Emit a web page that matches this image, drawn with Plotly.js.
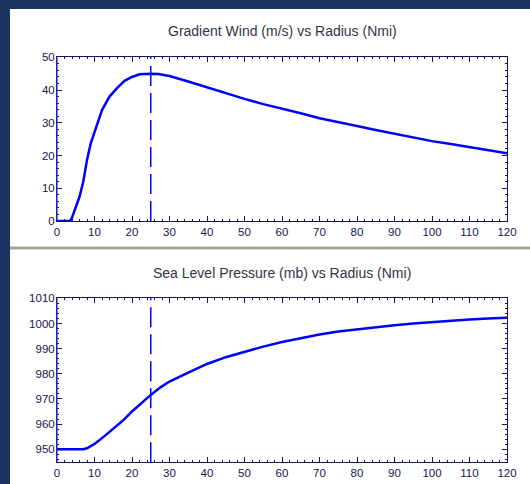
<!DOCTYPE html>
<html>
<head>
<meta charset="utf-8">
<script src="https://cdn.plot.ly/plotly-3.0.1.min.js"></script>
<style>
  html, body { margin: 0; padding: 0; background: #1c3461; width: 530px; height: 484px; overflow: hidden; }
  #chart { position: absolute; left: 10px; top: 9px; width: 520px; height: 475px; background: #ffffff; }
</style>
</head>
<body>
<div id="chart"></div>
<script>
// Radius (Nmi)
const windRadius = [0, 1, 2, 3, 3.5, 4, 5, 6, 7, 8, 9, 10, 12, 14, 16, 18, 20, 22, 24, 25, 27, 30, 35, 40, 45, 50, 55, 60, 65, 70, 75, 80, 85, 90, 95, 100, 105, 110, 115, 120];
// Gradient wind (m/s)
const windSpeed = [0, 0, 0, 0, 0, 1, 3.9, 7.4, 12, 18.6, 23.7, 27.3, 33.9, 38, 40.6, 42.8, 44, 44.8, 45, 45, 44.9, 44.3, 42.6, 40.8, 39, 37.3, 35.7, 34.4, 32.9, 31.4, 30.1, 29, 27.8, 26.6, 25.6, 24.4, 23.5, 22.5, 21.7, 20.7];

const presRadius = [0, 2, 4, 6, 7, 8, 10, 12.5, 15, 17.5, 20, 22.5, 25, 27.5, 30, 35, 40, 45, 50, 55, 60, 65, 70, 75, 80, 85, 90, 95, 100, 105, 110, 115, 120];
// Sea level pressure (mb)
const presValue = [950, 950, 950, 950, 950, 950.4, 952.1, 955, 958, 961.3, 965, 968.3, 971.6, 974.5, 976.9, 980.5, 983.9, 986.6, 988.8, 990.8, 992.6, 994.2, 995.6, 996.8, 997.7, 998.5, 999.3, 1000, 1000.6, 1001.1, 1001.6, 1002, 1002.3];

const rmwRadius = 25;   // radius of maximum wind (dashed line)
const xTicks = [0, 10, 20, 30, 40, 50, 60, 70, 80, 90, 100, 110, 120];

const topTitle = "Gradient Wind (m/s) vs Radius (Nmi)";
const botTitle = "Sea Level Pressure (mb) vs Radius (Nmi)";

const axisColor = '#14145a';
const lineBlue = '#0000ff';
const tickFont = { family: 'Liberation Sans, Arial, sans-serif', size: 11.5, color: '#16164e' };

function xAxis(anchor) {
  return {
    domain: [0, 1], anchor: anchor, range: [0, 120],
    tickvals: xTicks, ticktext: xTicks.map(String),
    ticks: 'inside', ticklen: 5, tickcolor: axisColor, tickwidth: 1,
    minor: { dtick: 2, ticks: 'inside', ticklen: 2, tickcolor: axisColor },
    showline: true, linecolor: axisColor, linewidth: 1, mirror: 'allticks',
    showgrid: false, zeroline: false, tickfont: tickFont, fixedrange: true
  };
}
function yAxis(anchor, domain, range, dtick, tick0) {
  return {
    domain: domain, anchor: anchor, range: range,
    tick0: tick0, dtick: dtick,
    ticks: 'inside', ticklen: 5, tickcolor: axisColor, tickwidth: 1,
    minor: { dtick: 2, ticks: 'inside', ticklen: 2, tickcolor: axisColor },
    showline: true, linecolor: axisColor, linewidth: 1, mirror: 'allticks',
    showgrid: false, zeroline: false, tickfont: tickFont, fixedrange: true,
    ticklabelstandoff: -1
  };
}

const traces = [
  { x: windRadius, y: windSpeed, xaxis: 'x', yaxis: 'y', type: 'scatter', mode: 'lines',
    line: { color: lineBlue, width: 2.5 }, hoverinfo: 'skip' },
  { x: presRadius, y: presValue, xaxis: 'x2', yaxis: 'y2', type: 'scatter', mode: 'lines',
    line: { color: lineBlue, width: 2.5 }, hoverinfo: 'skip' }
];

const layout = {
  width: 520, height: 475,
  margin: { l: 47, r: 23, t: 0, b: 0 },
  paper_bgcolor: '#ffffff', plot_bgcolor: '#ffffff',
  showlegend: false,
  xaxis: xAxis('y'),
  yaxis: yAxis('x', [0.5537, 0.8983], [0, 50], 10, 0),
  xaxis2: xAxis('y2'),
  yaxis2: yAxis('x2', [0.0457, 0.3909], [944.8, 1010], 10, 950),
  shapes: [
    // splitter band
    { type: 'rect', xref: 'paper', yref: 'paper', x0: -47/450, x1: 473/450, y0: 0.4926, y1: 0.5011,
      fillcolor: '#d8d5cc', line: { width: 0 }, layer: 'below' },
    { type: 'line', xref: 'paper', yref: 'paper', x0: -47/450, x1: 473/450, y0: 0.4968, y1: 0.4968,
      line: { color: '#8f8f80', width: 1.5 } },
    // dashed radius-of-maximum-wind lines
    { type: 'line', xref: 'x', yref: 'y domain', x0: rmwRadius, x1: rmwRadius, y0: 0, y1: 1,
      line: { color: lineBlue, width: 1.5, dash: '20px,7px' } },
    { type: 'line', xref: 'x2', yref: 'y2 domain', x0: rmwRadius, x1: rmwRadius, y0: 0, y1: 1,
      line: { color: lineBlue, width: 1.5, dash: '20px,7px' } },
    // bluish left spines
    { type: 'line', xref: 'x domain', yref: 'y domain', x0: 0, x1: 0, y0: 0, y1: 1,
      line: { color: '#2a2ae0', width: 1.2 } },
    { type: 'line', xref: 'x2 domain', yref: 'y2 domain', x0: 0, x1: 0, y0: 0, y1: 1,
      line: { color: '#2a2ae0', width: 1.2 } }
  ],
  annotations: [
    { text: topTitle, xref: 'paper', yref: 'paper', x: 0.5, y: 0.9537, xanchor: 'center', yanchor: 'middle',
      showarrow: false, font: { family: 'Liberation Sans, Arial, sans-serif', size: 14, color: '#333348' } },
    { text: botTitle, xref: 'paper', yref: 'paper', x: 0.5, y: 0.4442, xanchor: 'center', yanchor: 'middle',
      showarrow: false, font: { family: 'Liberation Sans, Arial, sans-serif', size: 14, color: '#333348' } }
  ]
};

Plotly.newPlot('chart', traces, layout, { displayModeBar: false, staticPlot: true });
</script>
</body>
</html>
